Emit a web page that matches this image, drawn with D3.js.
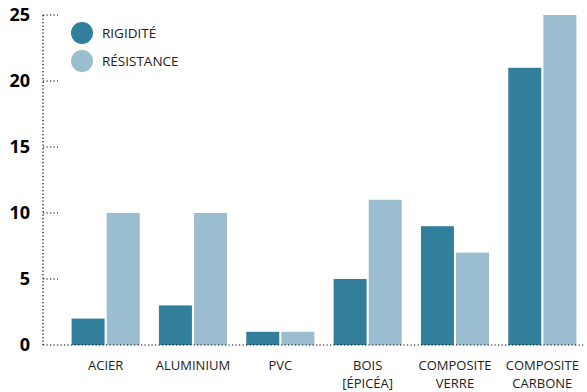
<!DOCTYPE html>
<html>
<head>
<meta charset="utf-8">
<script src="https://cdn.jsdelivr.net/npm/d3@7"></script>
<style>
  body { margin: 0; background: #fff; }
  svg { display: block; font-family: "Open Sans", sans-serif; }
</style>
</head>
<body>
<div class="graph"></div>
<script>
const w = 587;
const h = 392;
const margin = {top: 15, right: 1, bottom: 47, left: 43};

const materials = [["ACIER"], ["ALUMINIUM"], ["PVC"], ["BOIS", "[ÉPICÉA]"], ["COMPOSITE", "VERRE"], ["COMPOSITE", "CARBONE"]];
const seriesNames = ["RIGIDITÉ", "RÉSISTANCE"];
const rigidite = [2, 3, 1, 5, 9, 21];
const resistance = [10, 10, 1, 11, 7, 25];
const yTicks = [0, 5, 10, 15, 20, 25];

const color = d3.scaleOrdinal(seriesNames, ["#317f9b", "#9bbdd0"]);

const canvas = d3.select('.graph')
  .append("svg")
  .attr("width", w)
  .attr("height", h);

const keys = materials.map(d => d.join(" "));
const rows = keys.map((k, i) => ({key: k, lines: materials[i], values: [rigidite[i], resistance[i]]}));

const x0 = d3.scaleBand()
  .domain(keys)
  .range([62, 586])
  .paddingInner(0.22)
  .paddingOuter(0.11);

const x1 = d3.scaleBand()
  .domain(seriesNames)
  .range([0, x0.bandwidth()])
  .paddingInner(0.06);

const yScale = d3.scaleLinear()
  .domain([0, 25])
  .range([h - margin.bottom, margin.top]);

// dotted y axis
canvas.append("line")
  .attr("x1", margin.left).attr("x2", margin.left)
  .attr("y1", yScale(25)).attr("y2", yScale(0))
  .attr("stroke", "#000")
  .attr("stroke-width", 1.2)
  .attr("stroke-dasharray", "1.2,2.3");

const ticks = canvas.append("g").attr("id", "y-axis");
ticks.selectAll("line")
  .data(yTicks.filter(d => d > 0))
  .enter().append("line")
  .attr("x1", margin.left).attr("x2", margin.left + 15)
  .attr("y1", d => yScale(d)).attr("y2", d => yScale(d))
  .attr("stroke", "#000")
  .attr("stroke-width", 1.2)
  .attr("stroke-dasharray", "1.2,2.3");

ticks.selectAll("text")
  .data(yTicks)
  .enter().append("text")
  .attr("x", 30)
  .attr("y", d => yScale(d))
  .attr("dy", "0.36em")
  .attr("text-anchor", "end")
  .attr("font-size", "18px")
  .attr("font-weight", "bold")
  .attr("fill", "#000")
  .text(d => d);

const groups = canvas.selectAll(".group")
  .data(rows)
  .enter().append("g")
  .attr("class", "group")
  .attr("transform", d => `translate(${x0(d.key)},0)`);

groups.selectAll("rect")
  .data(d => d.values.map((v, i) => ({name: seriesNames[i], value: v})))
  .enter().append("rect")
  .attr("x", d => x1(d.name))
  .attr("y", d => yScale(d.value))
  .attr("width", x1.bandwidth())
  .attr("height", d => yScale(0) - yScale(d.value))
  .attr("fill", d => color(d.name));

// baseline
canvas.append("line")
  .attr("x1", margin.left).attr("x2", w - 2)
  .attr("y1", yScale(0)).attr("y2", yScale(0))
  .attr("stroke", "#000")
  .attr("stroke-width", 1.2)
  .attr("stroke-dasharray", "1.2,2.3");

// x labels, one text per line
groups.each(function(d) {
  d3.select(this).selectAll("text.xlab")
    .data(d.lines)
    .enter().append("text")
    .attr("class", "xlab")
    .attr("x", x0.bandwidth() / 2)
    .attr("y", (t, i) => yScale(0) + 25 + i * 18)
    .attr("text-anchor", "middle")
    .attr("font-size", "13px")
    .attr("fill", "#222")
    .text(t => t);
});

const legend = canvas.selectAll(".legend")
  .data(seriesNames)
  .enter().append("g")
  .attr("class", "legend")
  .attr("transform", (d, i) => `translate(82,${33 + i * 28})`);

legend.append("circle")
  .attr("r", 11)
  .attr("fill", color);

legend.append("text")
  .attr("x", 20)
  .attr("dy", "0.36em")
  .attr("font-size", "13.5px")
  .attr("fill", "#222")
  .text(d => d);
</script>
</body>
</html>
